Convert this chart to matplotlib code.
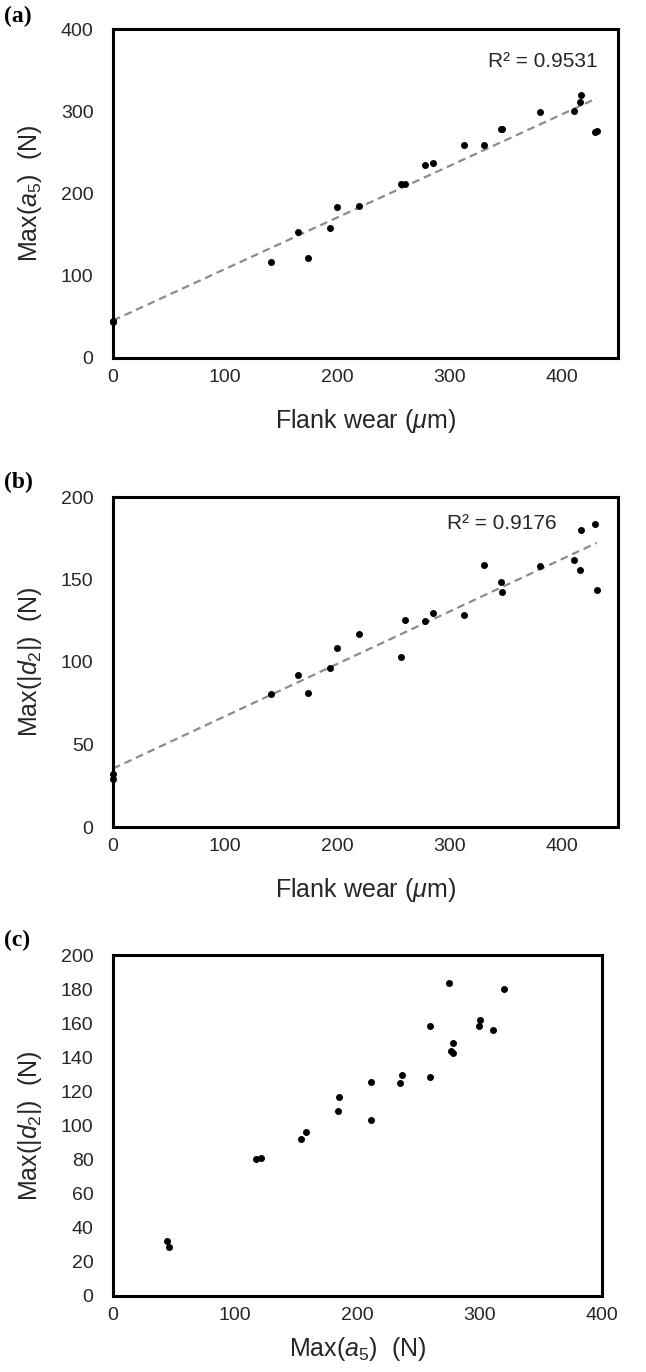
import numpy as np
import matplotlib
matplotlib.use("Agg")
import matplotlib.pyplot as plt

plt.rcParams['font.family'] = ['Liberation Sans', 'DejaVu Sans']
plt.rcParams['mathtext.fontset'] = 'custom'
plt.rcParams['mathtext.rm'] = 'Liberation Sans'
plt.rcParams['mathtext.it'] = 'Liberation Sans:italic'

# data (one entry per test)
flank_wear = [0, 0, 140.5, 164.8, 174, 193.3, 200, 218.8, 256.6, 260.2, 278.4,
              285, 312.7, 330.6, 345.5, 346.5, 380.4, 411, 416, 417, 429.5, 431]
max_a5 = [44, 45.5, 117, 153.6, 121, 157.6, 184, 185, 211, 211, 235,
          236.5, 259.5, 259.5, 278.5, 278, 299, 300.5, 311, 320, 274.5, 276.5]
max_d2 = [32, 29, 80.6, 92.1, 81.2, 96.2, 108.5, 116.7, 103, 125.6, 124.7,
          129.5, 128.6, 158.6, 148.5, 142.5, 158.3, 162.1, 156, 180, 183.8, 143.5]
r2_a = "R² = 0.9531"
r2_b = "R² = 0.9176"

tick_col = "#262626"
W, H = 646, 1372
fig = plt.figure(figsize=(W/100, H/100), dpi=100)

def px_axes(l, t, r, b):
    return fig.add_axes([l/W, 1-b/H, (r-l)/W, (b-t)/H])

def style(ax):
    for s in ax.spines.values():
        s.set_linewidth(2.2)
        s.set_color("black")
    ax.tick_params(length=0, labelsize=14, labelcolor=tick_col)
    ax.tick_params(axis='x', pad=8)
    ax.tick_params(axis='y', pad=14)

def trend(ax, x, y):
    x = np.array(x); y = np.array(y)
    k, c = np.polyfit(x, y, 1)
    xs = np.array([x.min(), x.max()])
    ax.plot(xs, k*xs+c, color="#8c8c8c", lw=1.6, ls=(0, (3.5, 2.2)), zorder=2)

lab_fs = 18

# (a)
ax1 = px_axes(113, 29, 618, 358)
ax1.plot(flank_wear, max_a5, 'o', color='black', ms=4, zorder=3, clip_on=False)
trend(ax1, flank_wear, max_a5)
ax1.set_xlim(0, 450)
ax1.set_ylim(0, 400)
ax1.set_xticks(np.arange(0, 401, 100))
ax1.set_yticks(np.arange(0, 401, 100))
ax1.set_xlabel(r"Flank wear ($μ$m)", fontsize=lab_fs, labelpad=15, color=tick_col)
ax1.set_ylabel(r"Max($a_5$)  (N)", fontsize=lab_fs, labelpad=12, color=tick_col)
ax1.text(0.96, 0.90, r2_a, transform=ax1.transAxes, ha='right', va='center',
         fontsize=15, color=tick_col)
style(ax1)

# (b)
ax2 = px_axes(113, 497, 618, 827)
ax2.plot(flank_wear, max_d2, 'o', color='black', ms=4, zorder=3, clip_on=False)
trend(ax2, flank_wear, max_d2)
ax2.set_xlim(0, 450)
ax2.set_ylim(0, 200)
ax2.set_xticks(np.arange(0, 401, 100))
ax2.set_yticks(np.arange(0, 201, 50))
ax2.set_xlabel(r"Flank wear ($μ$m)", fontsize=lab_fs, labelpad=15, color=tick_col)
ax2.set_ylabel(r"Max(|$d_2$|)  (N)", fontsize=lab_fs, labelpad=12, color=tick_col)
ax2.text(0.879, 0.921, r2_b, transform=ax2.transAxes, ha='right', va='center',
         fontsize=15, color=tick_col)
style(ax2)

# (c)
ax3 = px_axes(113, 955, 602, 1296)
ax3.plot(max_a5, max_d2, 'o', color='black', ms=4, zorder=3)
ax3.set_xlim(0, 400)
ax3.set_ylim(0, 200)
ax3.set_xticks(np.arange(0, 401, 100))
ax3.set_yticks(np.arange(0, 201, 20))
ax3.set_xlabel(r"Max($a_5$)  (N)", fontsize=lab_fs, labelpad=8, color=tick_col)
ax3.set_ylabel(r"Max(|$d_2$|)  (N)", fontsize=lab_fs, labelpad=12, color=tick_col)
style(ax3)

# panel letters
for lab, y in [("(a)", 16), ("(b)", 482), ("(c)", 940)]:
    fig.text(4/W, 1-y/H, lab, fontsize=17, fontweight='bold',
             family='Liberation Serif', ha='left', va='center')

fig.savefig("out.png", dpi=100)
